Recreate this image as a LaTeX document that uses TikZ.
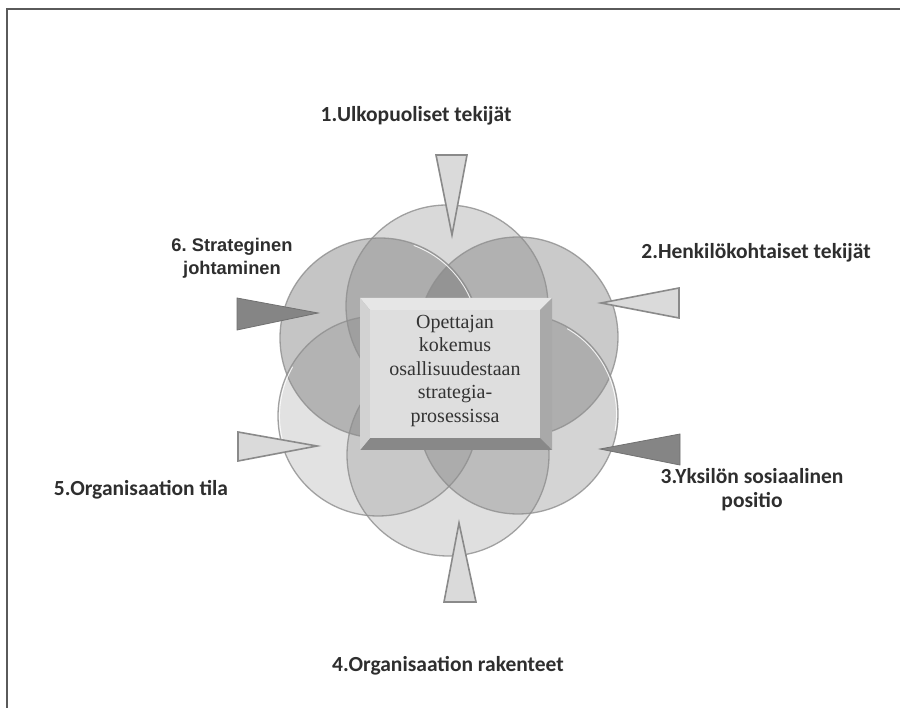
\documentclass[tikz,border=0pt]{standalone}
\usepackage{fontspec}
\setmainfont{Liberation Serif}
\newfontfamily\calfont{Carlito}
\newfontfamily\arfont{Liberation Sans}
\frenchspacing
\definecolor{framegray}{HTML}{5A5A5A}
\definecolor{petalline}{HTML}{8E8E8E}
\definecolor{arrowline}{HTML}{8A8A8A}
\definecolor{arrowlight}{HTML}{DADADA}
\definecolor{arrowdark}{HTML}{858585}
\definecolor{bevtop}{HTML}{E6E6E6}
\definecolor{bevleft}{HTML}{D2D2D2}
\definecolor{bevright}{HTML}{A9A9A9}
\definecolor{bevbottom}{HTML}{888888}
\definecolor{facegray}{HTML}{DEDEDE}
\definecolor{labelgray}{HTML}{2E2E2E}
\tikzset{
  petalfill/.style={fill=black!62},
  petaledge/.style={draw=petalline, line width=1.3pt, draw opacity=.8},
  petalglow/.style={draw=white, line width=.9pt, draw opacity=.85},
  lightarrow/.style={fill=arrowlight, draw=arrowline, line width=1.6pt, line join=miter},
  darkarrow/.style={fill=arrowdark, draw=arrowdark!85!black, line width=.8pt, line join=miter},
  factor/.style={font=\calfont\bfseries\fontsize{21.5}{24}\selectfont, text=labelgray, align=center, inner sep=0pt},
  factorsans/.style={font=\arfont\bfseries\fontsize{18.3}{23}\selectfont, text=labelgray, align=center, inner sep=0pt},
  coretext/.style={font=\fontsize{20}{23.5}\selectfont, text=black!80, align=center, inner sep=0pt}
}
\begin{document}
\begin{tikzpicture}[x=1pt,y=-1pt]
\useasboundingbox (0,0) rectangle (900,708);
\fill[white] (0,0) rectangle (900,708);
% page frame (right and bottom edges run off the sheet)
\draw[framegray, line width=1.4pt] (7,720) -- (7,9) -- (910,9);

% six overlapping petals
\coordinate (cTop) at (447,306);
\coordinate (cUR)  at (518,337);
\coordinate (cLR)  at (518,414);
\coordinate (cBot) at (448,455);
\coordinate (cLL)  at (378,416);
\coordinate (cUL)  at (380,338);

\fill[petalfill, fill opacity=.20] (cBot) circle[radius=101pt];
\fill[petalfill, fill opacity=.18] (cLL) circle[radius=100pt];
\fill[petalfill, fill opacity=.27] (cLR) circle[radius=100pt];
\fill[petalfill, fill opacity=.24] (cTop) circle[radius=101pt];
\fill[petalfill, fill opacity=.33] (cUR) circle[radius=100pt];
\fill[petalfill, fill opacity=.36] (cUL) circle[radius=100pt];

\draw[petaledge] (cBot) circle[radius=101pt];
\draw[petaledge] (cLL) circle[radius=100pt];
\draw[petaledge] (cLR) circle[radius=100pt];
\draw[petaledge] (cTop) circle[radius=101pt];
\draw[petaledge] (cUR) circle[radius=100pt];
\draw[petaledge] (cUL) circle[radius=100pt];

% soft light rims on some petals
\draw[petalglow] (cUL) ++(70:98.5pt) arc[start angle=70, end angle=-30, radius=98.5pt];
\draw[petalglow] (cLR) ++(60:98.5pt) arc[start angle=60, end angle=-10, radius=98.5pt];
\draw[petalglow] (cLL) ++(150:98.5pt) arc[start angle=150, end angle=200, radius=98.5pt];

% bevelled centre block
\fill[bevtop]    (360,298) -- (552,298) -- (540,310) -- (370,310) -- cycle;
\fill[bevright]  (552,298) -- (552,450) -- (540,438) -- (540,310) -- cycle;
\fill[bevbottom] (360,450) -- (552,450) -- (540,438) -- (370,438) -- cycle;
\fill[bevleft]   (360,298) -- (370,310) -- (370,438) -- (360,450) -- cycle;
\fill[facegray]  (370,310) rectangle (540,438);
\node[coretext] (core) at (455,371) {Opettajan\\kokemus\\osallisuudestaan\\strategia-\\prosessissa};

% pointers toward the petals
\coordinate (p1) at (452,235); \coordinate (p1a) at (436,155); \coordinate (p1b) at (467,155);
\coordinate (p2) at (601,303); \coordinate (p2a) at (679,288); \coordinate (p2b) at (679,318);
\coordinate (p3) at (600,449); \coordinate (p3a) at (680,434); \coordinate (p3b) at (680,465);
\coordinate (p4) at (459,523); \coordinate (p4a) at (444,602); \coordinate (p4b) at (476,602);
\coordinate (p5) at (317,446); \coordinate (p5a) at (238,432); \coordinate (p5b) at (238,461);
\coordinate (p6) at (318,313); \coordinate (p6a) at (237,298); \coordinate (p6b) at (237,330);

\draw[lightarrow] (p1) -- (p1a) -- (p1b) -- cycle;
\draw[lightarrow] (p2) -- (p2a) -- (p2b) -- cycle;
\draw[darkarrow]  (p3) -- (p3a) -- (p3b) -- cycle;
\draw[lightarrow] (p4) -- (p4a) -- (p4b) -- cycle;
\draw[lightarrow] (p5) -- (p5a) -- (p5b) -- cycle;
\draw[darkarrow]  (p6) -- (p6a) -- (p6b) -- cycle;

% factor labels
\node[factor] (f1) at (416,116) {1.Ulkopuoliset tekijät};
\node[factor] (f2) at (756,253) {2.Henkilökohtaiset tekijät};
\node[factor] (f3) at (752,490) {3.Yksilön sosiaalinen\\positio};
\node[factor] (f4) at (448,666) {4.Organisaation rakenteet};
\node[factor] (f5) at (141,490) {5.Organisaation tila};
\node[factorsans] (f6) at (232,258) {6. Strateginen\\johtaminen};
\end{tikzpicture}
\end{document}
